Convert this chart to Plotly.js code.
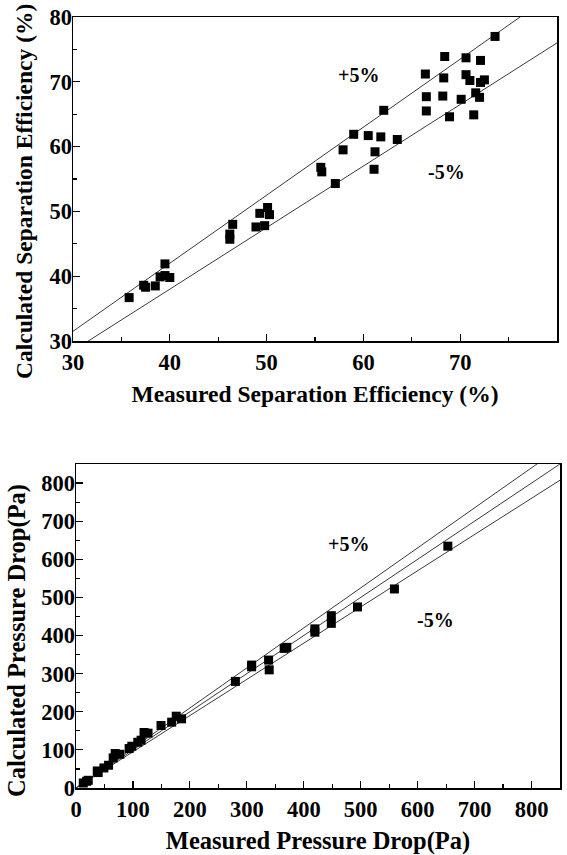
<!DOCTYPE html>
<html>
<head>
<meta charset="utf-8">
<script src="https://cdn.plot.ly/plotly-3.0.1.min.js"></script>
<style>html,body{margin:0;padding:0;background:#fff;}#chart{width:567px;height:855px;}</style>
</head>
<body>
<div id="chart"></div>
<script>
// Top chart: separation efficiency (%)
const effMeasured = [35.8, 37.3, 37.5, 38.5, 39.5, 39.0, 39.5, 40.0, 46.2, 46.2, 46.5, 48.9, 49.3, 49.8, 50.1, 50.3,
  55.6, 55.7, 57.1, 57.9, 59.0, 60.5, 61.8, 63.5, 61.2, 61.1, 62.1, 66.4, 66.5, 66.5, 68.2, 68.3, 68.4, 68.9, 70.1,
  70.6, 70.6, 71.0, 71.4, 71.6, 72.0, 72.1, 72.1, 72.5, 73.6];
const effCalculated = [36.7, 38.6, 38.3, 38.5, 41.9, 39.9, 40.1, 39.8, 46.5, 45.7, 48.0, 47.6, 49.7, 47.8, 50.6, 49.5,
  56.8, 56.1, 54.3, 59.5, 61.9, 61.7, 61.5, 61.1, 59.2, 56.5, 65.6, 71.2, 67.7, 65.5, 67.8, 70.6, 73.9, 64.6, 67.3,
  73.7, 71.1, 70.2, 64.9, 68.3, 67.6, 73.3, 69.9, 70.3, 77.0];
const effBandPlusX = [0, 80];
const effBandPlusY = [0, 84];
const effBandMinusX = [0, 80];
const effBandMinusY = [0, 76];
const effTickVals = [30, 40, 50, 60, 70, 80];

// Bottom chart: pressure drop (Pa)
const dpMeasured = [12.8, 18.7, 21.5, 37.3, 39, 49, 57.2, 65.3, 68.8, 77, 93.3, 98, 108.5, 114.3, 119.5, 126.5, 149.3,
  168, 176, 185.4, 279.9, 308.4, 308.4, 338.2, 339.3, 365.6, 370.2, 419.5, 419.5, 448.4, 448.4, 494.4, 559.2, 653];
const dpCalculated = [13.1, 17.6, 20.2, 44.7, 40.5, 52.6, 59.7, 78.8, 90.4, 88.5, 103.5, 109.6, 120, 125.4, 145.6, 143.8, 164,
  172.7, 188.4, 181.4, 279.6, 322.5, 318, 335.6, 310, 366.3, 369, 417.5, 408.8, 452, 432, 475, 522.2, 634.4];
const dpLineX = [0, 900];
const dpPlusY = [0, 945];
const dpEqualY = [0, 900];
const dpMinusY = [0, 855];
const dpTickVals = [0, 100, 200, 300, 400, 500, 600, 700, 800];

const FONT = "Liberation Serif, Times New Roman, serif";
const lineStyle = {color: '#3a3a3a', width: 1};
const marker = {symbol: 'square', size: 9, color: '#000'};

const traces = [
  {x: effBandPlusX, y: effBandPlusY, mode: 'lines', line: lineStyle, xaxis: 'x', yaxis: 'y', hoverinfo: 'skip'},
  {x: effBandMinusX, y: effBandMinusY, mode: 'lines', line: lineStyle, xaxis: 'x', yaxis: 'y', hoverinfo: 'skip'},
  {x: effMeasured, y: effCalculated, mode: 'markers', marker: marker, xaxis: 'x', yaxis: 'y', name: 'Efficiency'},
  {x: dpLineX, y: dpPlusY, mode: 'lines', line: lineStyle, xaxis: 'x2', yaxis: 'y2', hoverinfo: 'skip'},
  {x: dpLineX, y: dpEqualY, mode: 'lines', line: lineStyle, xaxis: 'x2', yaxis: 'y2', hoverinfo: 'skip'},
  {x: dpLineX, y: dpMinusY, mode: 'lines', line: lineStyle, xaxis: 'x2', yaxis: 'y2', hoverinfo: 'skip'},
  {x: dpMeasured, y: dpCalculated, mode: 'markers', marker: marker, xaxis: 'x2', yaxis: 'y2', name: 'Pressure drop'}
];

function boldLabels(vals) { return vals.map(v => '<b>' + v + '</b>'); }

function axisBase(extra) {
  return Object.assign({
    showgrid: false, zeroline: false,
    showline: true, linecolor: '#000', linewidth: 1.5, mirror: true,
    ticks: 'inside', ticklen: 7, tickwidth: 1.2, tickcolor: '#000',
    tickfont: {family: FONT, size: 22.5, color: '#000', weight: 700},
    tickmode: 'array',
    fixedrange: true
  }, extra);
}
const titleFontTop = {family: FONT, size: 23.5, color: '#000', weight: 700};
const titleFontBottom = {family: FONT, size: 24.5, color: '#000', weight: 700};
const noteFont = {family: FONT, size: 20, color: '#000', weight: 700};

const layout = {
  width: 567, height: 855,
  margin: {l: 0, r: 0, t: 0, b: 0},
  paper_bgcolor: '#fff', plot_bgcolor: '#fff',
  showlegend: false,
  xaxis: axisBase({domain: [73/567, 557/567], anchor: 'y', range: [30, 80],
    tickvals: effTickVals, ticktext: boldLabels(effTickVals),
    minor: {dtick: 5, ticks: 'inside', ticklen: 4, tickcolor: '#000'},
    title: {text: '<b>Measured Separation Efficiency (%)</b>', font: titleFontTop, standoff: 12}}),
  yaxis: axisBase({domain: [1 - 341/855, 1 - 17/855], anchor: 'x', range: [30, 80],
    tickvals: effTickVals, ticktext: boldLabels(effTickVals), ticklabelstandoff: -5,
    minor: {dtick: 5, ticks: 'inside', ticklen: 4, tickcolor: '#000'}}),
  xaxis2: axisBase({domain: [76/567, 560/567], anchor: 'y2', range: [0, 850],
    tickvals: dpTickVals, ticktext: boldLabels(dpTickVals),
    minor: {dtick: 50, ticks: 'inside', ticklen: 4, tickcolor: '#000'},
    title: {text: '<b>Measured Pressure Drop(Pa)</b>', font: titleFontBottom, standoff: 16}}),
  yaxis2: axisBase({domain: [1 - 788/855, 1 - 464/855], anchor: 'x2', range: [0, 850],
    tickvals: dpTickVals, ticktext: boldLabels(dpTickVals), ticklabelstandoff: -5,
    minor: {dtick: 50, ticks: 'inside', ticklen: 4, tickcolor: '#000'}}),
  annotations: [
    {xref: 'paper', yref: 'paper', x: 24/567, y: 1 - 192/855, text: '<b>Calculated Separation Efficiency (%)</b>',
     textangle: -90, showarrow: false, xanchor: 'center', yanchor: 'middle', font: titleFontTop},
    {xref: 'paper', yref: 'paper', x: 17/567, y: 1 - 641/855, text: '<b>Calculated Pressure Drop(Pa)</b>',
     textangle: -90, showarrow: false, xanchor: 'center', yanchor: 'middle', font: titleFontBottom},
    {xref: 'x', yref: 'y', x: 59.5, y: 71.1, text: '<b>+5%</b>', showarrow: false, font: noteFont},
    {xref: 'x', yref: 'y', x: 68.6, y: 56.1, text: '<b>-5%</b>', showarrow: false, font: noteFont},
    {xref: 'x2', yref: 'y2', x: 479, y: 640, text: '<b>+5%</b>', showarrow: false, font: noteFont},
    {xref: 'x2', yref: 'y2', x: 631, y: 441, text: '<b>-5%</b>', showarrow: false, font: noteFont}
  ]
};

Plotly.newPlot('chart', traces, layout, {displayModeBar: false, staticPlot: true});
</script>
</body>
</html>
